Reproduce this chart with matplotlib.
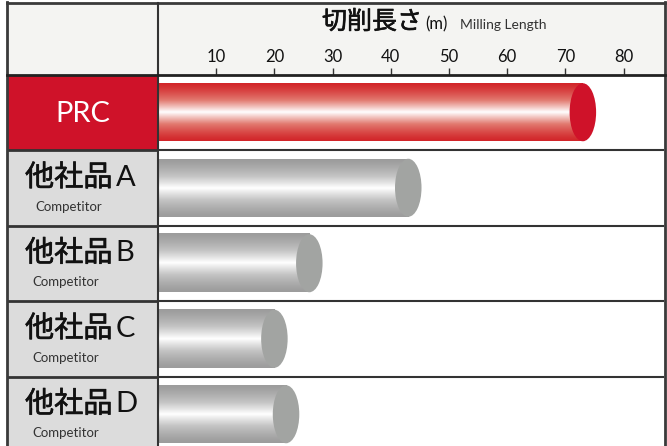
import numpy as np
import matplotlib
matplotlib.use("Agg")
import matplotlib.pyplot as plt
import matplotlib.patheffects as pe
from matplotlib.patches import Ellipse, Rectangle
from matplotlib.colors import LinearSegmentedColormap
from matplotlib.lines import Line2D

# ---- data ----
products = ["PRC", "他社品", "他社品", "他社品", "他社品"]
letters = ["", "A", "B", "C", "D"]
sublabel = "Competitor"
lengths = [73, 43, 26, 20, 22]
ticks = [10, 20, 30, 40, 50, 60, 70, 80]
title_jp = "切削長さ"
title_unit = "(m)"
title_en = "Milling Length"

W, H = 667, 446
fig = plt.figure(figsize=(W / 100, H / 100), dpi=100)
fig.patch.set_facecolor("white")

def fx(px):
    return px / W

def fy(py):
    return 1 - py / H

LAT = "Lato"
CJK = ["Noto Sans CJK JP", "DejaVu Sans"]

RED = "#cf1229"
LGREY = "#dcdcdc"
HEAD = "#f4f4f2"
LINE = "#333333"

top_px = 74.5
row_px = 75.5
x_left, x_right = 158, 664
px_per_unit = 5.82
nrows_vis = (H - top_px) / row_px
ylim = (-0.5 + nrows_vis, -0.5)

medium = [pe.withStroke(linewidth=0.45, foreground="#111111")]

# header axes
axh = fig.add_axes([fx(7), fy(top_px), fx(664) - fx(7), (top_px - 3) / H])
axh.set_facecolor(HEAD)
axh.set_xticks([]); axh.set_yticks([])
for s in axh.spines.values():
    s.set_visible(False)

# label column axes
axl = fig.add_axes([fx(7), 0, fx(158) - fx(7), (H - top_px) / H])
axl.set_xlim(0, 151)
axl.set_ylim(*ylim)
axl.axis("off")
for i in range(len(products)):
    fc = RED if i == 0 else LGREY
    axl.add_patch(Rectangle((0, i - 0.5), 151, 1, facecolor=fc, edgecolor="none", zorder=1))
    if i == 0:
        axl.text(75.5, i + 0.02, products[i], family=LAT, fontsize=21,
                 color="white", ha="center", va="center", zorder=3)
    else:
        axl.text(18, i - 0.13, products[i], family=CJK, fontsize=21,
                 color="#111111", ha="left", va="center", zorder=3, path_effects=medium)
        axl.text(108.5, i - 0.13, letters[i], family=LAT, fontsize=21,
                 color="#111111", ha="left", va="center", zorder=3)
        axl.text(28 if i == 1 else 25, i + 0.25, sublabel, family=LAT, fontsize=9.5,
                 color="#333333", ha="left", va="center", zorder=3)
    if i > 0:
        axl.axhline(i - 0.5, color=LINE, lw=2, zorder=4)

# main plot axes
ax = fig.add_axes([fx(x_left), 0, fx(x_right) - fx(x_left), (H - top_px) / H])
ax.set_xlim(0, (x_right - x_left) / px_per_unit)
ax.set_ylim(*ylim)
ax.set_facecolor("white")
for s in ax.spines.values():
    s.set_visible(False)
ax.set_yticks([])
ax.xaxis.tick_top()
ax.set_xticks(ticks)
ax.set_xticklabels([str(t) for t in ticks], family=LAT, fontsize=12, color="#111111")
ax.tick_params(axis="x", direction="out", length=5, width=1, color=LINE, pad=1.5)

t = np.linspace(-1, 1, 200)
mix = (1 - np.abs(t)) ** 1.3
grad = mix.reshape(-1, 1)

cm_red = LinearSegmentedColormap.from_list("r", ["#d2262a", "#e27a70", "#ffffff"])
cm_grey = LinearSegmentedColormap.from_list("g", ["#9c9c9c", "#c4c4c4", "#ffffff"])

bh = 58 / row_px
cap_w = 26.5 / px_per_unit
for i, v in enumerate(lengths):
    cm = cm_red if i == 0 else cm_grey
    ax.imshow(grad, cmap=cm, aspect="auto", extent=[0, v, i + bh / 2, i - bh / 2],
              interpolation="bilinear", zorder=2, vmin=0, vmax=1)
    capc = RED if i == 0 else "#a2a4a2"
    ax.add_patch(Ellipse((v, i), cap_w, bh, facecolor=capc, edgecolor="none", zorder=3))
    if i > 0:
        ax.axhline(i - 0.5, color=LINE, lw=1.5, zorder=4)
ax.set_xlim(0, (x_right - x_left) / px_per_unit)
ax.set_ylim(*ylim)

# title
fig.text(fx(322), fy(29), title_jp, family=CJK, fontsize=18,
         color="#111111", ha="left", va="baseline", path_effects=medium)
fig.text(fx(425), fy(29), title_unit, family=LAT, fontsize=12, color="#111111",
         ha="left", va="baseline")
fig.text(fx(460), fy(29), title_en, family=LAT, fontsize=10, color="#333333",
         ha="left", va="baseline")

# borders
def fline(x0, y0, x1, y1, lw, c=LINE):
    fig.add_artist(Line2D([fx(x0), fx(x1)], [fy(y0), fy(y1)], lw=lw, color=c, zorder=10))

fline(7, 3, 665, 3, 2, "#3a3a3a")
fline(7, 2, 7, 446, 2, "#3a3a3a")
fline(665, 2, 665, 446, 2, "#3a3a3a")
fline(158, 3, 158, 446, 1.5)
fline(7, top_px, 665, top_px, 2, "#222222")

fig.savefig("out.png", dpi=100)
